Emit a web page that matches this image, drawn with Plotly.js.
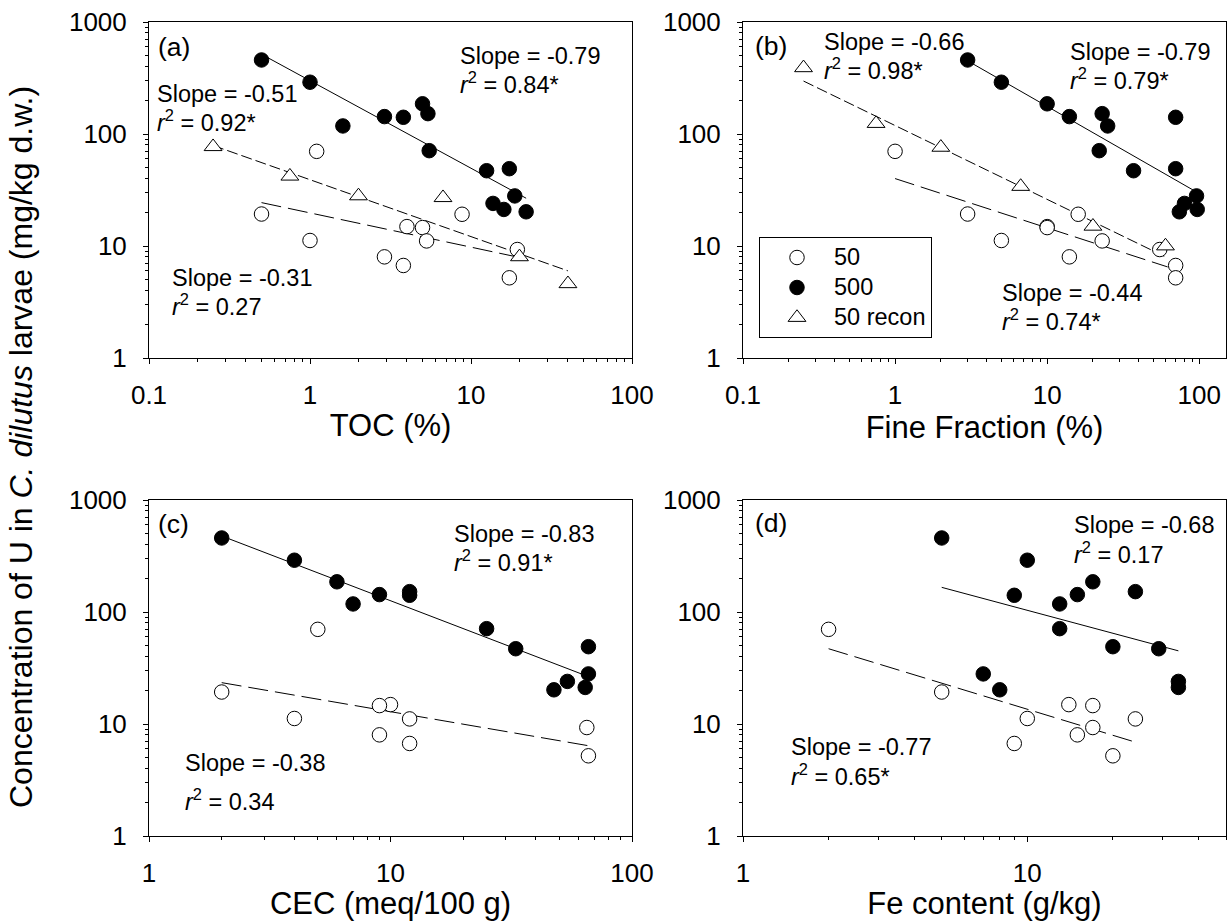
<!DOCTYPE html>
<html><head><meta charset="utf-8">
<script src="https://cdn.plot.ly/plotly-3.0.1.min.js"></script>
<style>html,body{margin:0;padding:0;background:#fff}</style>
</head><body><div id="chart" style="width:1229px;height:921px"></div>
<script>
// ---- data ----
// larval U concentrations (mg/kg d.w.) shared by the four panels
const y50  = [70, 19.3, 19.2, 14.9, 14.6, 11.2, 11.1, 9.3, 8.0, 6.7, 5.2];
const y500 = [458, 290, 186, 152, 143, 141, 118, 71, 49, 47, 28, 24, 21.2, 20.2];

const tocX50  = [1.1, 0.5, 8.8, 4.0, 5.0, 1.0, 5.3, 19.4, 2.9, 3.8, 17.3];
const tocX500 = [0.5, 1.0, 5.0, 5.4, 2.9, 3.8, 1.6, 5.5, 17.3, 12.5, 18.7, 13.7, 16, 22];
const tocReconX = [0.25, 0.75, 2.0, 6.7, 20, 40];
const tocReconY = [77, 42, 28, 27, 8.0, 4.6];

const fineX50  = [1.0, 3.0, 16, 10, 10, 5.0, 23, 55, 14, 70, 70];
const fineX500 = [3.0, 5.0, 10, 23, 14, 70, 25, 22, 70, 37, 96, 80, 97, 74];
const fineReconX = [0.25, 0.75, 2.0, 6.7, 20, 60];
const fineReconY = [390, 124, 76, 34, 15, 10];

const cecX50  = [5, 2, null, 10, 9, 4, 12, 65, 9, 12, 66];
const cecX500 = [2, 4, 6, 12, 9, 12, 7, 25, 66, 33, 66, 54, 64, 47.5];

const feX50  = [2, 5, null, 14, 17, 10, 24, 17, 15, 9, 20];
const feX500 = [5, 10, 17, 24, 15, 9, 13, 13, 20, 29, 7, 34, 34, 8];

// regression line end points
const fitA500X = [0.5, 22],  fitA500Y = [515, 26.7];
const fitA50X  = [0.5, 20],  fitA50Y  = [24.4, 7.9];
const fitARX   = [0.25, 40], fitARY   = [79, 6.0];
const fitB500X = [3, 95],    fitB500Y = [450, 30.6];
const fitB50X  = [1, 62],    fitB50Y  = [40, 6.5];
const fitBRX   = [0.25, 60], fitBRY   = [297, 8.0];
const fitC500X = [2, 66],    fitC500Y = [477, 26.5];
const fitC50X  = [2, 66],    fitC50Y  = [23.4, 6.4];
const fitD500X = [5, 34],    fitD500Y = [166, 45];
const fitD50X  = [2, 23.5],  fitD50Y  = [47, 7.0];

// tick labels
const yTickVals = [1, 10, 100, 1000];
const yTickText = ['1', '10', '100', '1000'];
const xTickValsAB = [0.1, 1, 10, 100];
const xTickTextAB = ['0.1', '1', '10', '100'];
const xTickValsCD = [1, 10, 100];
const xTickTextCD = ['1', '10', '100'];

const seriesNames = ['50', '500', '50 recon'];
const panelLabels = ['(a)', '(b)', '(c)', '(d)'];
const xTitles = ['TOC (%)', 'Fine Fraction (%)', 'CEC (meq/100 g)', 'Fe content (g/kg)'];
const yTitle = 'Concentration of U in <i>C. dilutus</i> larvae (mg/kg d.w.)';

// ---- helpers ----
function minorVals(lo, hi) {
  const v = [];
  for (let e = lo; e < hi; e++) for (let d = 2; d <= 9; d++) v.push(d * Math.pow(10, e));
  return v;
}
const FONT = 'Arial, "Liberation Sans", sans-serif';
const W = 1229, H = 921;
const px = v => v / W, py = v => 1 - v / H;

function xAxis(domain, range, tv, tt, anchor, title, mlo, mhi) {
  return {
    type: 'log', domain: domain, range: range, anchor: anchor,
    tickmode: 'array', tickvals: tv, ticktext: tt,
    ticks: 'outside', ticklen: 5, tickwidth: 1, tickcolor: '#000',
    minor: {tickmode: 'array', tickvals: minorVals(mlo, mhi), ticks: 'outside', ticklen: 3, tickwidth: 1, tickcolor: '#000', showgrid: false},
    showline: true, linecolor: '#000', linewidth: 1, mirror: true,
    showgrid: false, zeroline: false,
    tickfont: {family: FONT, size: 26, color: '#000'},
    ticklabelstandoff: 9,
    title: {text: title, font: {family: FONT, size: 31, color: '#000'}, standoff: 5}
  };
}
function yAxis(domain, anchor) {
  return {
    type: 'log', domain: domain, range: [0, 3], anchor: anchor,
    tickmode: 'array', tickvals: yTickVals, ticktext: yTickText,
    ticks: 'outside', ticklen: 5, tickwidth: 1, tickcolor: '#000',
    minor: {tickmode: 'array', tickvals: minorVals(0, 3), ticks: 'outside', ticklen: 3, tickwidth: 1, tickcolor: '#000', showgrid: false},
    showline: true, linecolor: '#000', linewidth: 1, mirror: true,
    showgrid: false, zeroline: false,
    tickfont: {family: FONT, size: 26, color: '#000'},
    ticklabelstandoff: 11
  };
}

const MS = 14.5;
const mk50 = {symbol: 'circle', size: MS, color: '#fff', line: {color: '#000', width: 1}};
const mk500 = {symbol: 'circle', size: MS, color: '#000', line: {color: '#000', width: 1}};
const mkR = {symbol: 'triangle-up', size: 15.5, color: '#fff', line: {color: '#000', width: 1}};
const solid = {color: '#000', width: 1};
const dash50 = {color: '#000', width: 1, dash: '20px,7px'};
const dashR = {color: '#000', width: 1, dash: '11px,4px'};

function line(x, y, xa, ya, style) {
  return {x: x, y: y, xaxis: xa, yaxis: ya, mode: 'lines', line: style, showlegend: false, hoverinfo: 'skip'};
}
const legendName = s => '<span style="font-size:23.5px">' + s + '</span>';
function pts(x, y, xa, ya, m, name, show) {
  return {x: x, y: y, xaxis: xa, yaxis: ya, mode: 'markers', marker: m,
          name: legendName(name), legendgroup: name, showlegend: show};
}

const traces = [
  line(fitA500X, fitA500Y, 'x', 'y', solid),
  line(fitA50X, fitA50Y, 'x', 'y', dash50),
  line(fitARX, fitARY, 'x', 'y', dashR),
  line(fitB500X, fitB500Y, 'x2', 'y2', solid),
  line(fitB50X, fitB50Y, 'x2', 'y2', dash50),
  line(fitBRX, fitBRY, 'x2', 'y2', dashR),
  line(fitC500X, fitC500Y, 'x3', 'y3', solid),
  line(fitC50X, fitC50Y, 'x3', 'y3', dash50),
  line(fitD500X, fitD500Y, 'x4', 'y4', solid),
  line(fitD50X, fitD50Y, 'x4', 'y4', dash50),

  pts(tocX50, y50, 'x', 'y', mk50, seriesNames[0], true),
  pts(tocX500, y500, 'x', 'y', mk500, seriesNames[1], true),
  pts(tocReconX, tocReconY, 'x', 'y', mkR, seriesNames[2], true),
  pts(fineX50, y50, 'x2', 'y2', mk50, seriesNames[0], false),
  pts(fineX500, y500, 'x2', 'y2', mk500, seriesNames[1], false),
  pts(fineReconX, fineReconY, 'x2', 'y2', mkR, seriesNames[2], false),
  pts(cecX50, y50, 'x3', 'y3', mk50, seriesNames[0], false),
  pts(cecX500, y500, 'x3', 'y3', mk500, seriesNames[1], false),
  pts(feX50, y50, 'x4', 'y4', mk50, seriesNames[0], false),
  pts(feX500, y500, 'x4', 'y4', mk500, seriesNames[1], false)
];

const domXL = [px(149), px(632)], domXR = [px(743), px(1226)];
const domYT = [py(358), py(22)], domYB = [py(836), py(500)];

function txt(x, y, s, size) {
  return {xref: 'paper', yref: 'paper', x: px(x), y: py(y), text: s, showarrow: false,
          xanchor: 'left', yanchor: 'middle', font: {family: FONT, size: size || 23.5, color: '#000'}};
}
const r2 = v => '<i>r</i><sup>2</sup> = ' + v;

const annotations = [
  txt(156, 47, panelLabels[0], 26.5), txt(753, 46, panelLabels[1], 26.5),
  txt(156, 524, panelLabels[2], 26.5), txt(753, 523, panelLabels[3], 26.5),
  // (a)
  txt(458, 56, 'Slope = -0.79'), txt(458, 83, r2('0.84*')),
  txt(155, 94, 'Slope = -0.51'), txt(155, 121, r2('0.92*')),
  txt(170, 278, 'Slope = -0.31'), txt(170, 305, r2('0.27')),
  // (b)
  txt(822, 42, 'Slope = -0.66'), txt(822, 69, r2('0.98*')),
  txt(1068, 52, 'Slope = -0.79'), txt(1068, 79, r2('0.79*')),
  txt(1000, 293, 'Slope = -0.44'), txt(1000, 320, r2('0.74*')),
  // (c)
  txt(452, 534, 'Slope = -0.83'), txt(452, 561, r2('0.91*')),
  txt(183, 763, 'Slope = -0.38'), txt(183, 800, r2('0.34')),
  // (d)
  txt(1072, 525, 'Slope = -0.68'), txt(1072, 553, r2('0.17')),
  txt(789, 747, 'Slope = -0.77'), txt(789, 775, r2('0.65*')),
  // shared y title
  {xref: 'paper', yref: 'paper', x: px(21), y: py(447), text: yTitle, showarrow: false, textangle: -90,
   xanchor: 'center', yanchor: 'middle', font: {family: FONT, size: 32, color: '#000'}}
];

const layout = {
  width: W, height: H, margin: {l: 0, r: 0, t: 0, b: 0},
  paper_bgcolor: '#fff', plot_bgcolor: '#fff',
  font: {family: FONT, color: '#000'},
  xaxis:  xAxis(domXL, [-1, 2], xTickValsAB, xTickTextAB, 'y', xTitles[0], -1, 2),
  yaxis:  yAxis(domYT, 'x'),
  xaxis2: xAxis(domXR, [-1, Math.log10(150)], xTickValsAB, xTickTextAB, 'y2', xTitles[1], -1, 3),
  yaxis2: yAxis(domYT, 'x2'),
  xaxis3: xAxis(domXL, [0, 2], xTickValsCD, xTickTextCD, 'y3', xTitles[2], 0, 2),
  yaxis3: yAxis(domYB, 'x3'),
  xaxis4: xAxis(domXR, [0, Math.log10(50)], xTickValsCD, xTickTextCD, 'y4', xTitles[3], 0, 2),
  yaxis4: yAxis(domYB, 'x4'),
  showlegend: true,
  legend: {x: px(759), y: py(237), xanchor: 'left', yanchor: 'top',
           bordercolor: '#000', borderwidth: 1, bgcolor: '#fff',
           font: {family: FONT, size: 20, color: '#000'}, itemwidth: 64, tracegroupgap: 1},
  annotations: annotations
};

Plotly.newPlot('chart', traces, layout, {displayModeBar: false, staticPlot: true});
</script>
</body></html>
